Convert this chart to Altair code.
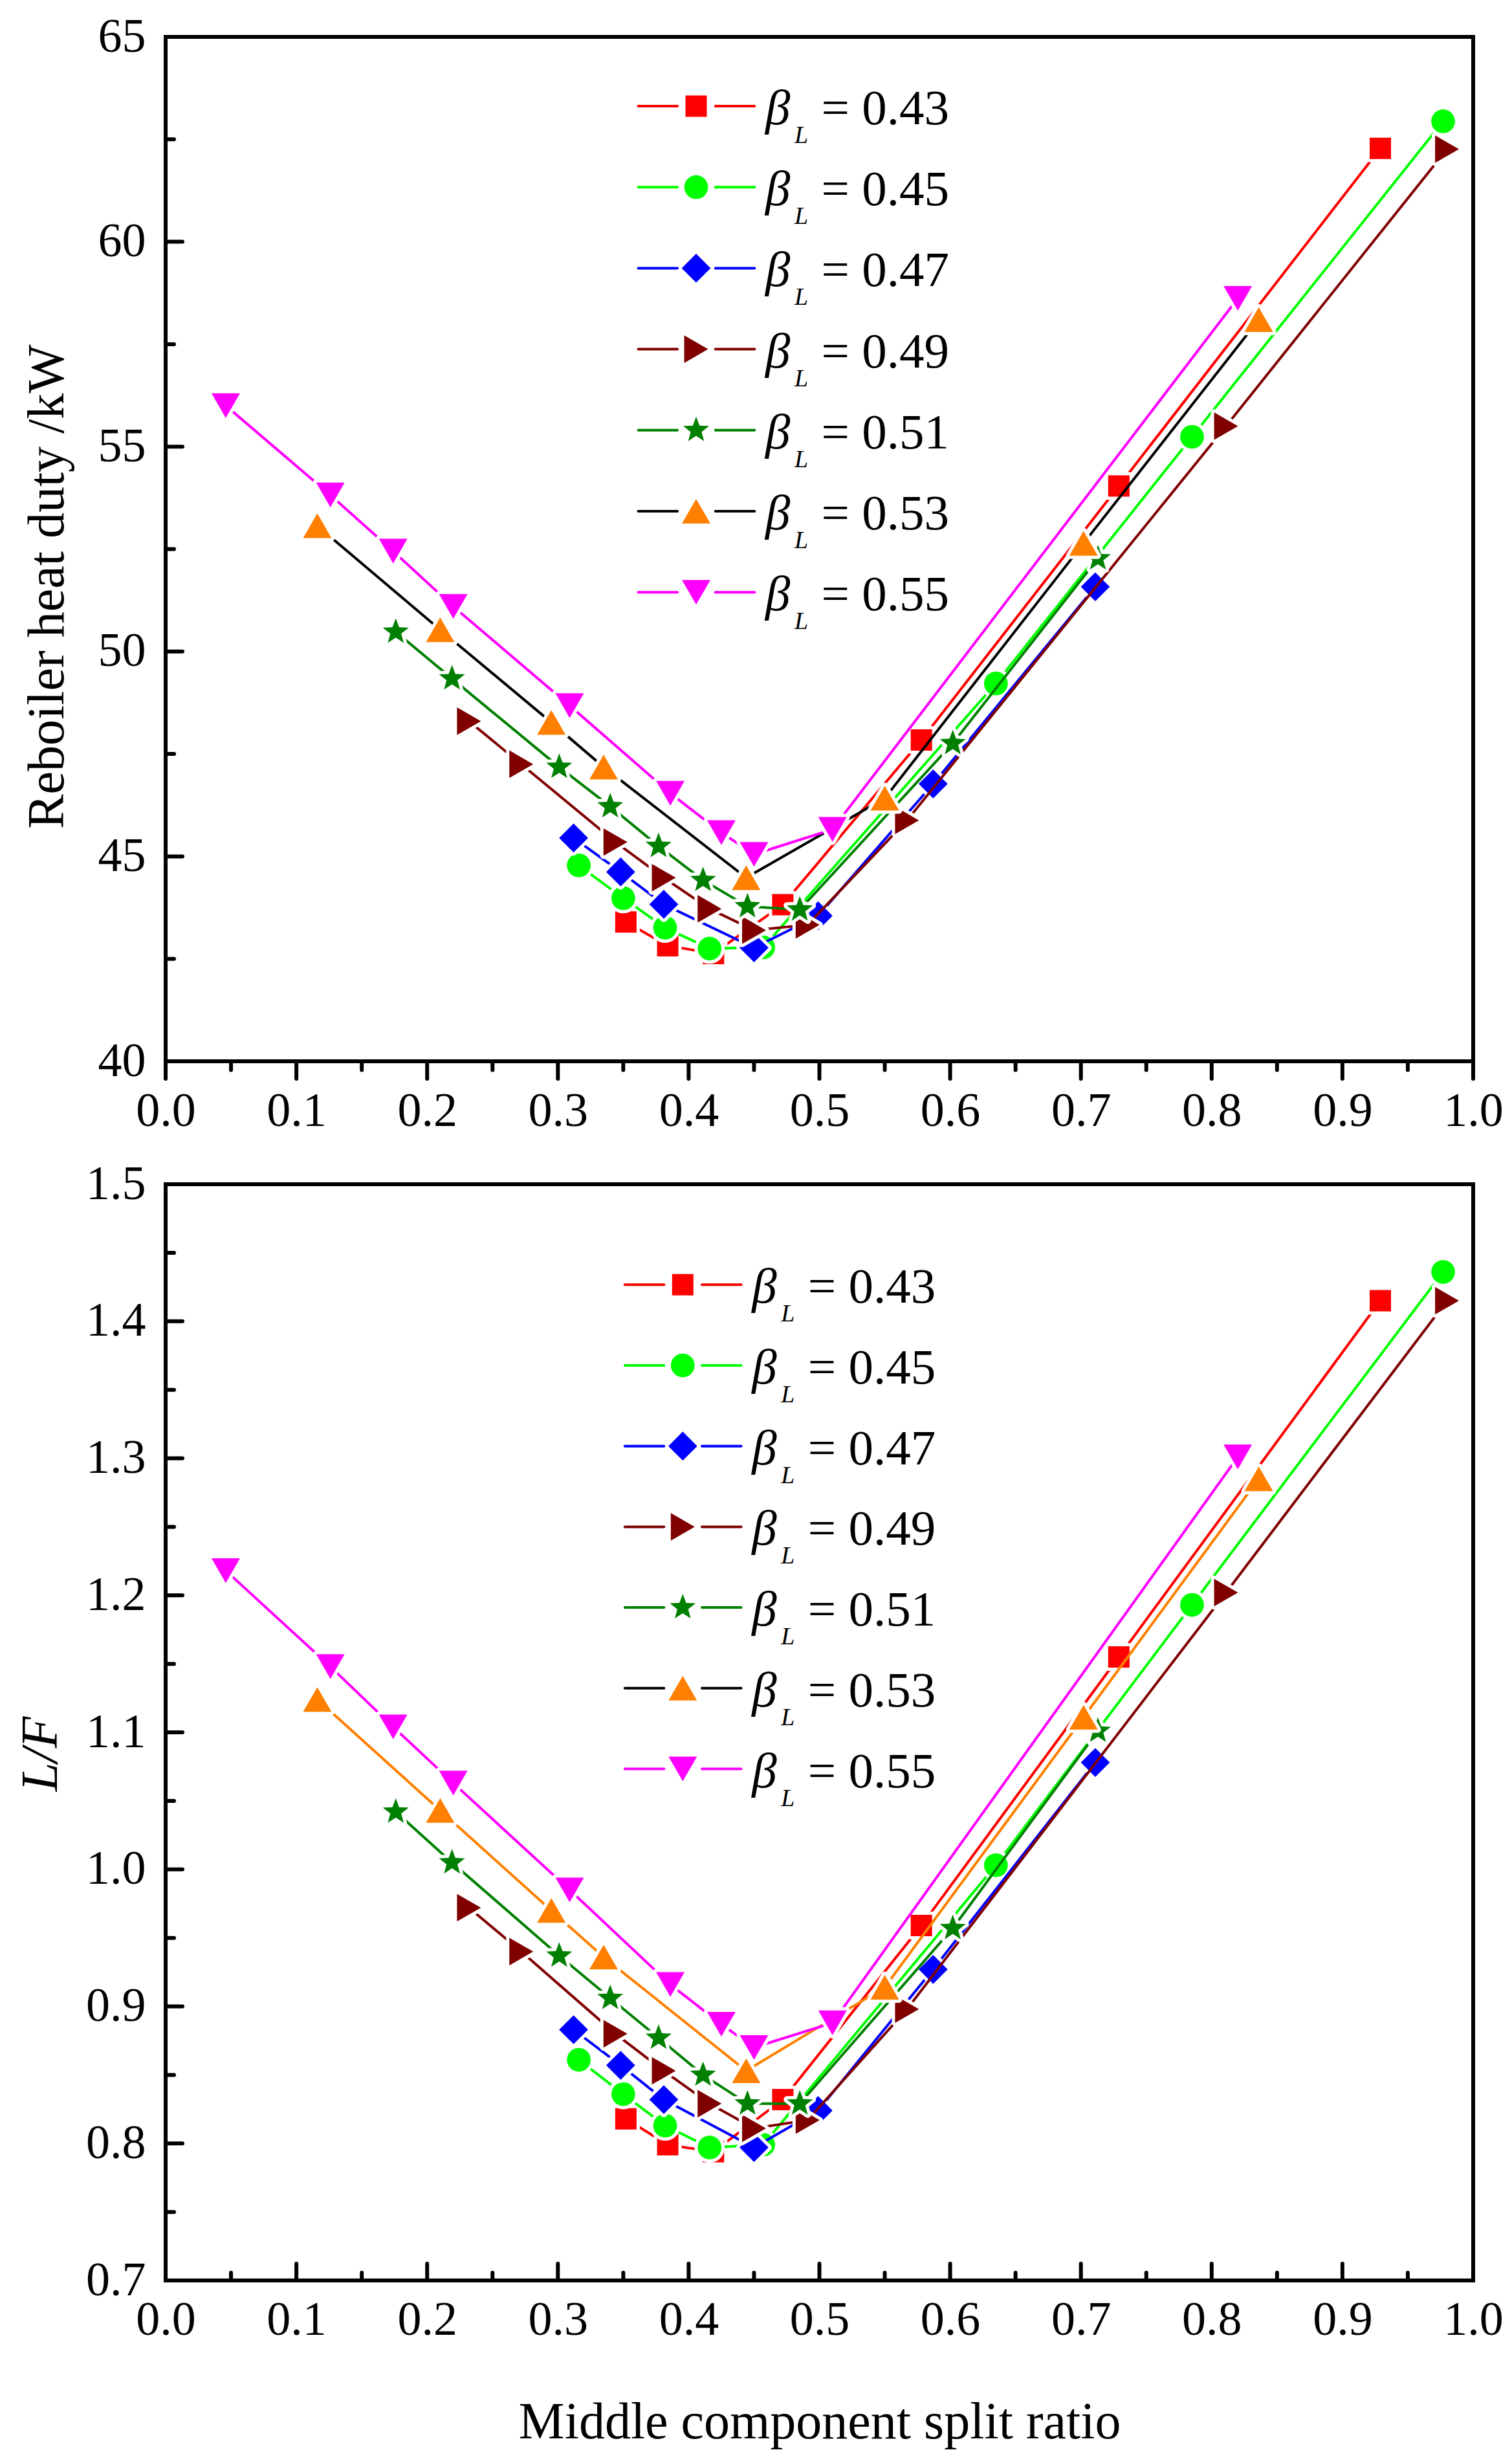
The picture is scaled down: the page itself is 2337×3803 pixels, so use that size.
import altair as alt
import pandas as pd

FONT = "Liberation Serif"

# ---------------- data ----------------
SERIES = ["0.43", "0.45", "0.47", "0.49", "0.51", "0.53", "0.55"]

X_043 = [0.352, 0.384, 0.419, 0.472, 0.578, 0.729, 0.929]
Q_043 = [43.40, 42.82, 42.63, 43.82, 47.84, 54.04, 62.28]
LF_043 = [0.818, 0.799, 0.794, 0.832, 0.959, 1.155, 1.415]

X_045 = [0.316, 0.350, 0.382, 0.416, 0.457, 0.635, 0.785, 0.977]
Q_045 = [44.78, 43.98, 43.26, 42.75, 42.78, 49.22, 55.24, 62.94]
LF_045 = [0.861, 0.836, 0.813, 0.797, 0.799, 1.003, 1.193, 1.436]

X_047 = [0.312, 0.348, 0.381, 0.450, 0.499, 0.587, 0.711]
Q_047 = [45.45, 44.62, 43.83, 42.77, 43.55, 46.77, 51.58]
LF_047 = [0.883, 0.857, 0.832, 0.797, 0.824, 0.927, 1.078]

X_049 = [0.232, 0.272, 0.344, 0.381, 0.416, 0.450, 0.491, 0.567, 0.811, 0.980]
Q_049 = [48.30, 47.25, 45.35, 44.48, 43.72, 43.20, 43.33, 45.88, 55.50, 62.26]
LF_049 = [0.972, 0.940, 0.880, 0.853, 0.829, 0.811, 0.817, 0.898, 1.202, 1.415]

X_051 = [0.176, 0.219, 0.301, 0.340, 0.377, 0.411, 0.445, 0.485, 0.602, 0.713]
Q_051 = [50.48, 49.34, 47.18, 46.22, 45.25, 44.42, 43.78, 43.70, 47.76, 52.27]
LF_051 = [1.042, 1.005, 0.937, 0.906, 0.877, 0.850, 0.829, 0.829, 0.957, 1.101]

X_053 = [0.116, 0.210, 0.295, 0.335, 0.444, 0.550, 0.702, 0.836]
Q_053 = [53.07, 50.53, 48.27, 47.18, 44.48, 46.42, 52.64, 58.10]
LF_053 = [1.124, 1.043, 0.970, 0.936, 0.853, 0.914, 1.111, 1.285]

X_055 = [0.046, 0.126, 0.174, 0.220, 0.309, 0.386, 0.425, 0.450, 0.510, 0.820]
Q_055 = [56.00, 53.82, 52.45, 51.10, 48.68, 46.54, 45.58, 45.05, 45.66, 58.62]
LF_055 = [1.218, 1.148, 1.104, 1.063, 0.985, 0.916, 0.887, 0.870, 0.888, 1.301]

X_TICKS = [0.0, 0.1, 0.2, 0.3, 0.4, 0.5, 0.6, 0.7, 0.8, 0.9, 1.0]
X_MINOR = [0.05, 0.15, 0.25, 0.35, 0.45, 0.55, 0.65, 0.75, 0.85, 0.95]
Q_TICKS = [40, 45, 50, 55, 60, 65]
Q_MINOR = [42.5, 47.5, 52.5, 57.5, 62.5]
LF_TICKS = [0.7, 0.8, 0.9, 1.0, 1.1, 1.2, 1.3, 1.4, 1.5]
LF_MINOR = [0.75, 0.85, 0.95, 1.05, 1.15, 1.25, 1.35, 1.45]

X_ALL = [X_043, X_045, X_047, X_049, X_051, X_053, X_055]
Q_ALL = [Q_043, Q_045, Q_047, Q_049, Q_051, Q_053, Q_055]
LF_ALL = [LF_043, LF_045, LF_047, LF_049, LF_051, LF_053, LF_055]

# ---------------- styles ----------------
STAR = ("M0,-1L0.247,-0.340L0.951,-0.309L0.400,0.130L0.588,0.809L0,0.420"
        "L-0.588,0.809L-0.400,0.130L-0.951,-0.309L-0.247,-0.340Z")
SHAPES = ["square", "circle", "diamond", "triangle-right", STAR, "triangle-up", "triangle-down"]
SIZES = [1090, 1350, 2000, 1820, 1764, 1936, 1936]
FILLS = ["#ff0000", "#00ff00", "#0000ff", "#800000", "#008000", "#ff8000", "#ff00ff"]
LINES_TOP = ["#ff0000", "#00ff00", "#0000ff", "#800000", "#008000", "#000000", "#ff00ff"]
LINES_BOT = ["#ff0000", "#00ff00", "#0000ff", "#800000", "#008000", "#ff8000", "#ff00ff"]
LEGEND_LINES = ["#ff0000", "#00ff00", "#0000ff", "#800000", "#008000", "#000000", "#ff00ff"]

W = 2021
H_TOP = 1583
H_BOT = 1694


def panel(y_all, ydomain, yticks, yminor, yfmt, H, line_colors, ytitle, ytitle_italic,
          ytitle_x, ytitle_y, xlab_pad, ticks_out, show_xtitle, leg_mx, leg_y0, leg_dy,
          anchor=False):
    xaxis_kw = dict(values=X_TICKS, format=".1f", labelPadding=xlab_pad)
    if show_xtitle:
        xaxis_kw.update(title="Middle component split ratio", titleX=W / 2, titleY=243,
                        titleBaseline="alphabetic", titleAlign="center")
    else:
        xaxis_kw.update(title=None)
    X = alt.X("x:Q", scale=alt.Scale(domain=[0, 1], nice=False, zero=False),
              axis=alt.Axis(**xaxis_kw))
    Y = alt.Y("y:Q", scale=alt.Scale(domain=ydomain, nice=False, zero=False),
              axis=alt.Axis(values=yticks, format=yfmt, labelPadding=31, title=ytitle,
                            titleX=ytitle_x, titleY=ytitle_y, titleAngle=270,
                            titleBaseline="bottom", titleAlign="center",
                            titleFontStyle=("italic" if ytitle_italic else "normal")))

    layers = []
    for k in range(len(SERIES)):
        d = pd.DataFrame({"x": X_ALL[k], "y": y_all[k], "i": list(range(len(X_ALL[k])))})
        base = alt.Chart(d).encode(x=X, y=Y)
        layers.append(base.mark_line(color=line_colors[k], strokeWidth=4).encode(order="i:Q"))
        layers.append(base.mark_point(filled=True, shape=SHAPES[k], size=SIZES[k], fill="white",
                                      stroke="white", strokeWidth=10, strokeJoin="round",
                                      opacity=1))
        layers.append(base.mark_point(filled=True, shape=SHAPES[k], size=SIZES[k],
                                      fill=FILLS[k], strokeWidth=0, opacity=1))

    # ticks (major + minor)
    xt = pd.DataFrame({"x": X_TICKS})
    xm = pd.DataFrame({"x": X_MINOR})
    yt = pd.DataFrame({"y": yticks})
    ym = pd.DataFrame({"y": yminor})
    tick = dict(color="black", strokeWidth=6, strokeCap="round")
    if ticks_out:
        layers.append(alt.Chart(xt).mark_rule(**tick).encode(x=X, y=alt.value(H), y2=alt.value(H + 27)))
        layers.append(alt.Chart(xm).mark_rule(**tick).encode(x=X, y=alt.value(H), y2=alt.value(H + 13.5)))
    else:
        layers.append(alt.Chart(xt).mark_rule(**tick).encode(x=X, y=alt.value(H), y2=alt.value(H - 26)))
        layers.append(alt.Chart(xm).mark_rule(**tick).encode(x=X, y=alt.value(H), y2=alt.value(H - 12)))
    layers.append(alt.Chart(yt).mark_rule(**tick).encode(y=Y, x=alt.value(0), x2=alt.value(26)))
    layers.append(alt.Chart(ym).mark_rule(**tick).encode(y=Y, x=alt.value(0), x2=alt.value(13)))

    if anchor:
        layers.append(alt.Chart(pd.DataFrame({"a": [0]})).mark_rule(opacity=0, strokeOpacity=0)
                      .encode(x=alt.value(-245), x2=alt.value(-245), y=alt.value(-46), y2=alt.value(-40)))

    data_layer = alt.layer(*layers)

    # custom legend
    py = [leg_y0 + leg_dy * k for k in range(len(SERIES))]
    ld = pd.DataFrame({
        "py": py,
        "ty": [p + 28 for p in py],
        "ly": [p + 57 for p in py],
        "shape": SHAPES,
        "size": SIZES,
        "fill": FILLS,
        "lc": LEGEND_LINES,
        "beta": ["β"] * len(SERIES),
        "sub": ["L"] * len(SERIES),
        "val": ["= " + s for s in SERIES],
    })

    def LY(f):
        return alt.Y(f + ":Q", scale=alt.Scale(domain=[0, H], reverse=True, nice=False, zero=False),
                     axis=None)

    M = leg_mx
    lb = alt.Chart(ld)
    seg1 = lb.mark_rule(strokeWidth=4, strokeCap="round").encode(
        x=alt.value(M - 89.5), x2=alt.value(M - 29), y=LY("py"), stroke=alt.Stroke("lc:N", scale=None))
    seg2 = lb.mark_rule(strokeWidth=4, strokeCap="round").encode(
        x=alt.value(M + 29.7), x2=alt.value(M + 90.3), y=LY("py"), stroke=alt.Stroke("lc:N", scale=None))
    mk = lb.mark_point(filled=True, opacity=1, strokeWidth=0).encode(
        x=alt.value(M), y=LY("py"),
        shape=alt.Shape("shape:N", scale=None),
        size=alt.Size("size:Q", scale=None),
        fill=alt.Fill("fill:N", scale=None))
    t_beta = lb.mark_text(align="left", baseline="alphabetic", font=FONT, fontSize=77,
                          fontStyle="italic", color="black").encode(
        x=alt.value(M + 107), y=LY("ty"), text="beta:N")
    t_sub = lb.mark_text(align="left", baseline="alphabetic", font=FONT, fontSize=38,
                         fontStyle="italic", color="black").encode(
        x=alt.value(M + 152), y=LY("ly"), text="sub:N")
    t_val = lb.mark_text(align="left", baseline="alphabetic", font=FONT, fontSize=77,
                         color="black").encode(
        x=alt.value(M + 193.5), y=LY("ty"), text="val:N")
    legend_layer = alt.layer(seg1, seg2, mk, t_beta, t_sub, t_val)

    return alt.layer(data_layer, legend_layer).resolve_scale(y="independent").properties(
        width=W, height=H)


top = panel(Q_ALL, [40, 65], Q_TICKS, Q_MINOR, "d", H_TOP, LINES_TOP,
            "Reboiler heat duty /kW", False, -142, 849, 41, True, False,
            820, 107, 125.2, anchor=True)
bottom = panel(LF_ALL, [0.7, 1.5], LF_TICKS, LF_MINOR, ".1f", H_BOT, LINES_BOT,
               "L/F", True, -152, 880, 25, False, True,
               799.3, 155.3, 124.7)

chart = alt.vconcat(top, bottom, spacing=190, bounds="flush", padding=0).configure_view(
    stroke="black", strokeWidth=6
).configure_axis(
    labelFont=FONT, labelFontSize=74, labelColor="black",
    titleFont=FONT, titleFontSize=80, titleFontWeight="normal", titleColor="black",
    domain=False, ticks=False, tickSize=0, grid=False,
    labelFlush=False, labelOverlap=False, labelBound=False,
)

chart.save("out.html", embed_options={"renderer": "svg", "actions": False})
